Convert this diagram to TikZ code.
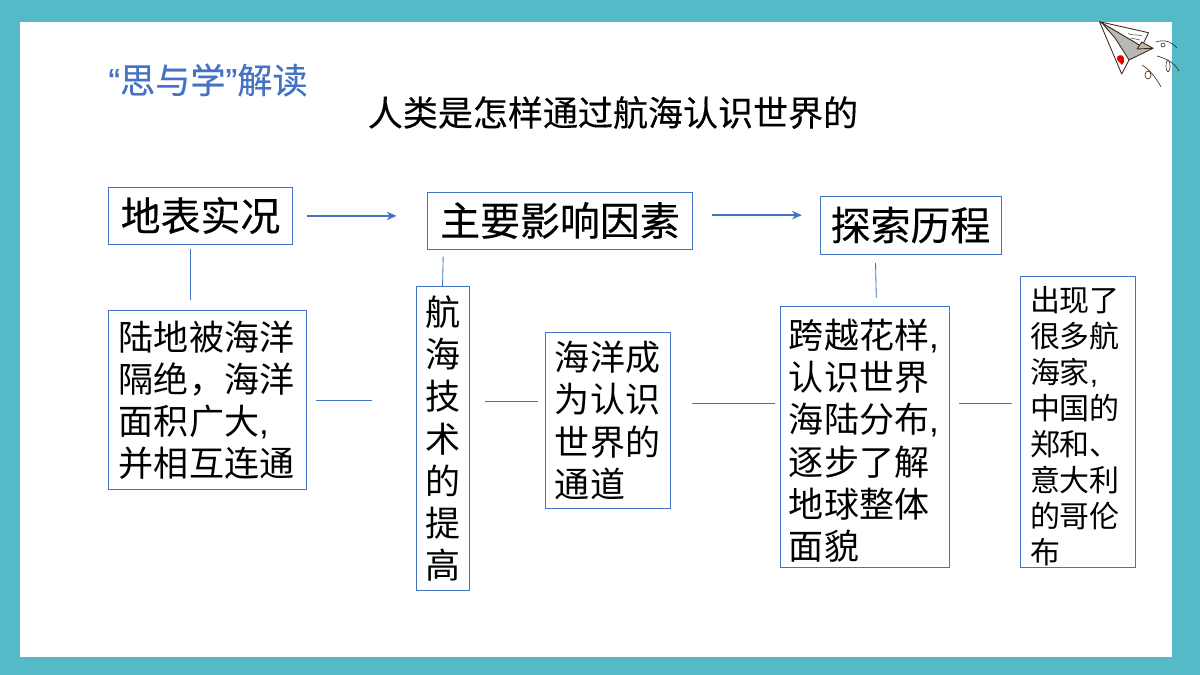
\documentclass[tikz,border=0pt]{standalone}
\usepackage{fontspec}
\setmainfont{Noto Sans CJK SC}
\newfontfamily\quotefont{Liberation Sans}
\newfontfamily\heavyfont[FakeBold=0.25]{Noto Sans CJK SC}
\newfontfamily\heavyquote[FakeBold=0.25]{Liberation Sans}
\usetikzlibrary{calc,arrows.meta}

\definecolor{framecolor}{HTML}{54BAC8}
\definecolor{boxblue}{HTML}{4472C4}

\tikzset{
  wordbox/.style={draw=boxblue,line width=0.7pt,fill=white,inner sep=0pt,align=left,text=black},
  bigbox/.style={wordbox,font=\heavyfont\fontsize{28.4}{34}\selectfont},
  midbox/.style={wordbox,font=\fontsize{24.9}{30}\selectfont},
  smallbox/.style={wordbox,font=\fontsize{21.3}{25.6}\selectfont},
  linkline/.style={draw=boxblue,line width=0.6pt},
  arrowline/.style={draw=boxblue,line width=1.5pt,-{Stealth[length=7pt,width=6pt]}},
  curl/.style={draw=black!65!brown,line width=0.45pt},
  planeedge/.style={draw=black!70!brown,line width=0.6pt,line join=round}
}

\begin{document}
\begin{tikzpicture}[x=0.025cm,y=-0.025cm]
        % Frame and page
        \fill[framecolor] (0,0) rectangle (1200,675);
        \fill[white] (20,22) rectangle (1172,657);
        \useasboundingbox (0,0) rectangle (1200,675);

        % Headings
        \node[text=boxblue,font=\heavyfont\fontsize{25}{30}\selectfont,inner sep=0pt] (heading) at (208,80) {{\heavyquote “}思与学{\heavyquote ”}解读};
        \node[text=black,font=\heavyfont\fontsize{24.9}{30}\selectfont,inner sep=0pt] (title) at (613,112.5) {人类是怎样通过航海认识世界的};

        % Top row
        \node[bigbox,minimum width=183*0.7113pt,minimum height=57*0.7113pt] (dibiao) at (200.5,215.5) {地表实况};
        \node[bigbox,minimum width=264*0.7113pt,minimum height=57*0.7113pt] (zhuyao) at (560,220.5) {主要影响因素};
        \node[bigbox,minimum width=181*0.7113pt,minimum height=58*0.7113pt] (tansuo) at (910.5,225) {探索历程};

        % Lower row
        \node[midbox,minimum height=178*0.7113pt,text width=177*0.7113pt,inner xsep=10*0.7113pt,font=\fontsize{24.9}{29.9}\selectfont] (ludi) at (207.5,400) {陆地被海洋\\隔绝，海洋\\面积广大{\quotefont ,}\\并相互连通};
        \node[midbox,minimum width=53*0.7113pt,minimum height=303*0.7113pt,font=\fontsize{24.9}{29.9}\selectfont] (hanghai) at (442.5,438.5) {航\\海\\技\\术\\的\\提\\高};
        \node[midbox,minimum width=125*0.7113pt,minimum height=175*0.7113pt,font=\fontsize{24.9}{30.3}\selectfont] (haiyang) at (607.5,420.5) {海洋成\\为认识\\世界的\\通道};
        \node[midbox,minimum height=260*0.7113pt,text width=151*0.7113pt,inner xsep=9*0.7113pt,font=\fontsize{24.9}{30.1}\selectfont] (kuayue) at (864.5,437) {\rule{0pt}{26.2pt}跨越花样{\quotefont ,}\\认识世界\\海陆分布{\quotefont ,}\\逐步了解\\地球整体\\面貌};
        \node[smallbox,minimum height=290*0.7113pt,text width=95*0.7113pt,inner xsep=10*0.7113pt] (chuxian) at (1077.5,422) {\rule{0pt}{24.4pt}出现了\\很多航\\海家{\quotefont ,}\\中国的\\郑和、\\意大利\\的哥伦\\布};

        % Arrows
        \draw[arrowline,shorten <=10pt,shorten >=22pt] ([yshift=-0.3pt]dibiao.east) -- ([yshift=-0.3pt]dibiao.east -| zhuyao.west);
        \draw[arrowline,shorten <=14pt,shorten >=12.5pt] ([yshift=3.8pt]zhuyao.east) -- ([yshift=3.8pt]zhuyao.east -| tansuo.west);

        % Plain links
        \draw[linkline,shorten <=3pt,shorten >=7.5pt] ([xshift=-7.5pt]dibiao.south) -- ([xshift=-7.5pt]dibiao.south |- ludi.north);
        \draw[linkline,shorten <=5pt,shorten >=0.5pt] ([xshift=0.6pt]zhuyao.south -| hanghai.north) -- (hanghai.north);
        \draw[linkline,shorten <=6pt,shorten >=6pt] ([xshift=-25pt]tansuo.south) -- ([xshift=8.5pt]kuayue.north);
        \draw[linkline,shorten <=7pt,shorten >=31pt] (ludi.east) -- (ludi.east -| hanghai.west);
        \draw[linkline,shorten <=11pt,shorten >=4.5pt] ([yshift=13.9pt]haiyang.west -| hanghai.east) -- ([yshift=13.9pt]haiyang.west);
        \draw[linkline,shorten <=15.6pt,shorten >=3.5pt] ([yshift=24pt]kuayue.west -| haiyang.east) -- ([yshift=24pt]kuayue.west);
        \draw[linkline,shorten <=6.5pt,shorten >=5pt] ([yshift=13.5pt]chuxian.west -| kuayue.east) -- ([yshift=13.5pt]chuxian.west);

        % Paper plane
        \fill[white] (1099.5,21.7) -- (1153,44) -- (1129,60) -- (1121.7,74) -- cycle;
        \draw[planeedge,fill=white] (1099.5,21.7) -- (1148.5,32.7) -- (1141.7,46.7) -- cycle;
        \draw[planeedge,fill=black!28] (1102,23) -- (1136,43) -- (1143,48) -- (1153,48.3) -- (1129,60) -- (1115,38) -- cycle;
        \draw[planeedge] (1099.5,21.7) -- (1121.7,74) -- (1129,60);
        \draw[planeedge,fill=black!45!brown!40] (1141.7,42) -- (1153,48.3) -- (1137,49) -- cycle;
        \draw[black!70,line width=0.4pt] (1128,33.5) .. controls (1133,36) and (1137,34) .. (1142,36);
        \draw[black!70,line width=0.4pt] (1131,38) .. controls (1134,40) and (1137,38) .. (1140,40);
        \fill[red!90!black] (1117,57) .. controls (1120,54) and (1123,55) .. (1124,58) .. controls (1125,61) and (1123,64) .. (1122,65) .. controls (1120,62) and (1116,61) .. (1117,57) -- cycle;

        % Curls behind the plane
        \draw[curl] (1156,42) .. controls (1165,39) and (1172,42) .. (1177,48);
        \draw[curl] (1163,45) circle (2);
        \draw[curl] (1157,56) .. controls (1165,58) and (1175,63) .. (1179,71);
        \draw[curl] (1168,66) ellipse (2 and 6);
        \draw[curl] (1142,65) .. controls (1150,70) and (1156,78) .. (1161,87);
        \draw[curl] (1148,75) ellipse (3 and 4);
    \end{tikzpicture}
\end{document}
